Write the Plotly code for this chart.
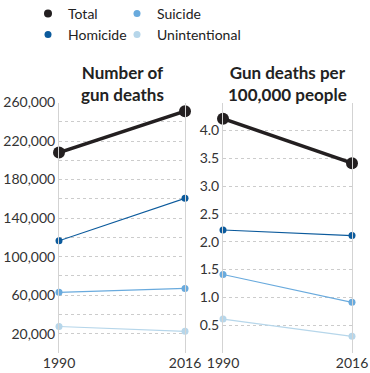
import plotly.graph_objects as go

years = [1990, 2016]
series = ["Total", "Homicide", "Suicide", "Unintentional"]
colors = {"Total": "#231f20", "Homicide": "#0b5a9c", "Suicide": "#69aadd", "Unintentional": "#b6d6ea"}

deaths = {
    "Total": [208000, 251000],
    "Homicide": [116500, 160500],
    "Suicide": [63000, 67000],
    "Unintentional": [27500, 22500],
}
rates = {
    "Total": [4.21, 3.41],
    "Homicide": [2.21, 2.11],
    "Suicide": [1.41, 0.91],
    "Unintentional": [0.61, 0.30],
}

count_ticks = [0, 20000, 40000, 60000, 80000, 100000, 120000, 140000, 160000, 180000, 200000, 220000, 240000, 260000]
count_labels = ["", "20,000", "", "60,000", "", "100,000", "", "140,000", "", "180,000", "", "220,000", "", "260,000"]
rate_ticks = [0, 0.5, 1.0, 1.5, 2.0, 2.5, 3.0, 3.5, 4.0, 4.5]
rate_labels = ["", "0.5", "1.0", "1.5", "2.0", "2.5", "3.0", "3.5", "4.0", ""]
year_labels = ["1990", "2016"]

titles = ["Number of<br>gun deaths", "Gun deaths per<br>100,000 people"]

FONT = "Lato, 'Open Sans', sans-serif"
W, H = 370, 373


def fx(px):
    return px / W


def fy(py):
    return 1 - py / H


fig = go.Figure()

legend_of = {"Total": "legend", "Suicide": "legend2", "Homicide": "legend3", "Unintentional": "legend4"}
legend_pos = {"legend": (28, -2), "legend2": (117, -2), "legend3": (28, 19), "legend4": (117, 19)}

for name in reversed(series):
    big = name == "Total"
    lw = 3.5 if big else 1.2
    ms = 12 if big else 7
    for data, xa, ya in [(deaths, "x", "y"), (rates, "x2", "y2")]:
        fig.add_trace(go.Scatter(
            x=years, y=data[name], xaxis=xa, yaxis=ya, mode="lines",
            line=dict(color=colors[name], width=lw), showlegend=False,
            cliponaxis=False, hoverinfo="skip"))
        if big and xa == "x":
            # small marker used for the legend entry (hidden beneath the large marker)
            fig.add_trace(go.Scatter(
                x=years, y=data[name], xaxis=xa, yaxis=ya, mode="markers", name=name,
                marker=dict(color=colors[name], size=8), showlegend=True,
                legend=legend_of[name], cliponaxis=False))
        fig.add_trace(go.Scatter(
            x=years, y=data[name], xaxis=xa, yaxis=ya, mode="markers", name=name,
            marker=dict(color=colors[name], size=ms),
            showlegend=(xa == "x" and not big),
            legend=legend_of[name], cliponaxis=False))

tickfont = dict(family=FONT, size=14, color="#333333")
axis_common = dict(showgrid=True, gridcolor="#cccccc", griddash="dot", gridwidth=1, automargin=False,
                   zeroline=False, showline=True, linecolor="#d3d3d3", linewidth=1, mirror=True,
                   ticks="", tickfont=tickfont, ticklabeloverflow="allow")
xaxis_common = dict(range=[1990, 2016], tickvals=years, ticktext=year_labels, showgrid=False,
                    automargin=False, zeroline=False, showline=False, ticks="", tickfont=tickfont,
                    ticklabeloverflow="allow")

legend_layout = {}
for key, (lx, ly) in legend_pos.items():
    legend_layout[key] = dict(
        orientation="h", x=fx(lx), y=fy(ly), xref="paper", yref="paper",
        xanchor="left", yanchor="top", itemwidth=30,
        font=dict(family=FONT, size=14, color="#222222"),
        bgcolor="rgba(0,0,0,0)", itemclick=False, itemdoubleclick=False)

fig.update_layout(
    width=W, height=H,
    margin=dict(l=0, r=0, t=0, b=0, autoexpand=False),
    paper_bgcolor="white", plot_bgcolor="white",
    font=dict(family=FONT, color="#222222"),
    xaxis=dict(domain=[fx(59), fx(185)], anchor="y", **xaxis_common),
    xaxis2=dict(domain=[fx(223), fx(352)], anchor="y2", **xaxis_common),
    yaxis=dict(domain=[fy(353), fy(102.5)], anchor="x", range=[0, 260000],
               tickvals=count_ticks, ticktext=count_labels, **axis_common),
    yaxis2=dict(domain=[fy(353), fy(102.5)], anchor="x2", range=[0, 4.5],
                tickvals=rate_ticks, ticktext=rate_labels, **axis_common),
    showlegend=True,
    hovermode=False,
    **legend_layout,
)

for i, t in enumerate(titles):
    xd = [fx((59 + 185) / 2), fx((223 + 352) / 2)][i]
    fig.add_annotation(text="<b>" + t + "</b>", x=xd, y=fy(83), xref="paper", yref="paper",
                       xanchor="center", yanchor="middle", showarrow=False,
                       font=dict(family=FONT, size=17, color="#222222"), align="center")

# remove the default 8px page margin so the figure sits at the window's top-left corner
fig.write_html("out.html", config={"displayModeBar": False},
               post_script="document.body.style.margin='0';")
